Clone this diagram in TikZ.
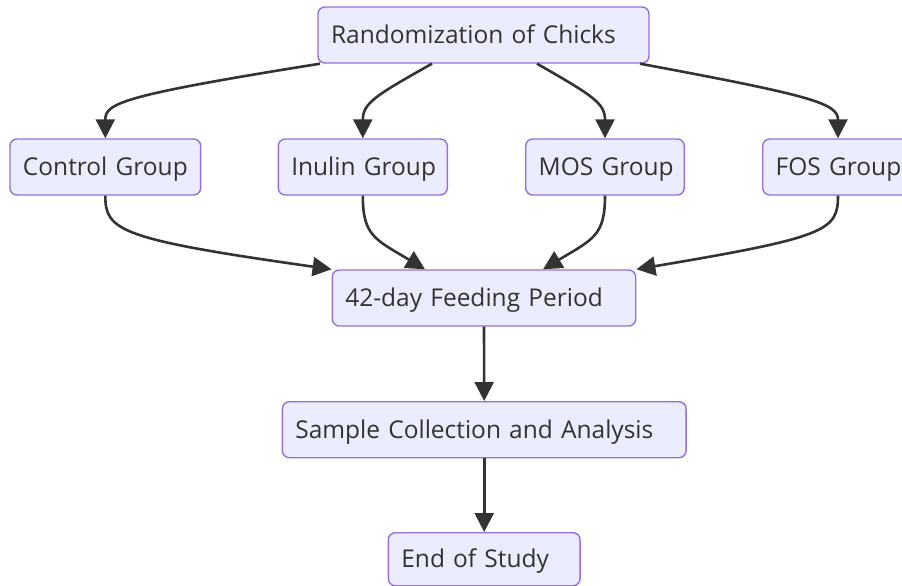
\documentclass[tikz,border=0pt]{standalone}
\usepackage{fontspec}
\setmainfont{Open Sans}
\usetikzlibrary{arrows.meta,calc}
\definecolor{nodefill}{HTML}{ECECFF}
\definecolor{nodeborder}{HTML}{9370DB}
\definecolor{edgecol}{HTML}{333333}
\definecolor{txtcol}{HTML}{333333}
\tikzset{
  box/.style={draw=nodeborder, fill=nodefill, line width=1.4pt, rounded corners=7pt,
    inner xsep=13pt, inner ysep=0pt, minimum height=56pt, align=left,
    text height=20pt, text depth=3pt,
    text width=#1, text=txtcol, font=\fontsize{24.5}{29}\selectfont},
  edge/.style={draw=edgecol, line width=2.6pt, -{Triangle[length=19pt,width=19pt]}}
}
\begin{document}
\begin{tikzpicture}[x=1pt,y=-1pt]
\useasboundingbox (0,0) rectangle (902,586);
\node[box=305pt] (r) at (483.5,35) {\mbox{Randomization of Chicks}};
\node[box=164.7pt] (c) at (105.3,167) {\mbox{Control Group}};
\node[box=143pt] (i) at (362.8,167) {\mbox{Inulin Group}};
\node[box=132.6pt] (m) at (605,167) {\mbox{MOS Group}};
\node[box=124.6pt] (f) at (838,167) {\mbox{FOS Group}};
\node[box=277.4pt] (p) at (484,298) {\mbox{42-day Feeding Period}};
\node[box=377.7pt] (s) at (484.2,429.7) {\mbox{Sample Collection and Analysis}};
\node[box=165.7pt, minimum height=53pt] (e) at (484.2,559.2) {\mbox{End of Study}};

\draw[edge] ([xshift=-163.5pt]r.south) .. controls +(-200,32) and +(0,-35) .. (c.north);
\draw[edge] ([xshift=-51.5pt]r.south) .. controls +(-57,32) and +(0,-35) .. (i.north);
\draw[edge] ([xshift=53.5pt]r.south) .. controls +(56,32) and +(0,-35) .. (m.north);
\draw[edge] ([xshift=156.5pt]r.south) .. controls +(172,32) and +(0,-35) .. (f.north);

\draw[edge] (c.south) .. controls +(0,35) and +(-212,-30) .. (p.north west);
\draw[edge] (i.south) .. controls +(0,40) and +(-50,-30) .. ([xshift=-59pt]p.north);
\draw[edge] (m.south) .. controls +(0,40) and +(50,-30) .. ([xshift=59pt]p.north);
\draw[edge] (f.south) .. controls +(0,35) and +(190,-32) .. (p.north east);

\draw[edge] (p.south) -- (s.north);
\draw[edge] (s.south) -- (e.north);
\end{tikzpicture}
\end{document}
